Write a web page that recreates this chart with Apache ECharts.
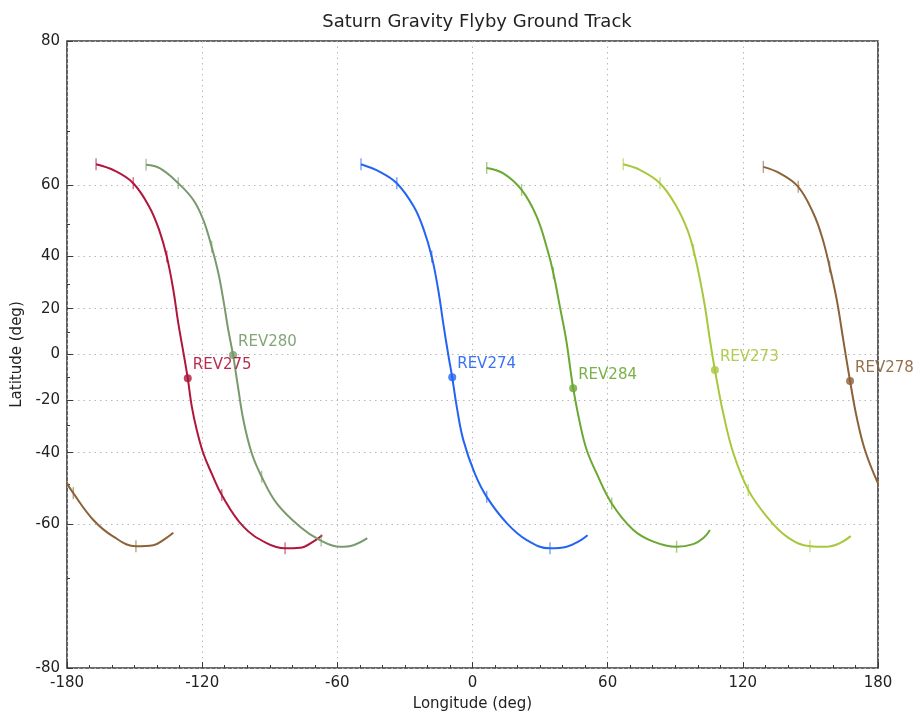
<!DOCTYPE html>
<html>
<head>
<meta charset="utf-8">
<script src="https://cdn.jsdelivr.net/npm/echarts@6/dist/echarts.min.js"></script>
<style>
  html, body { margin: 0; padding: 0; background: #fff; }
  #chart { width: 920px; height: 718px; }
</style>
</head>
<body>
<div id="chart"></div>
<script>
// Axis tick values (degrees)
const latMajorTicks = [-80, -60, -40, -20, 0, 20, 40, 60, 80];
const latMinorTicks = [-70, -50, -30, -10, 10, 30, 50, 70];
const lonMin = -180, lonMax = 180, lonInterval = 60;

// Orbit names and colours
const trackNames  = ['REV275', 'REV280', 'REV274', 'REV284', 'REV273', 'REV278'];
const trackColors = ['#b0163c', '#789a6c', '#2364f4', '#6aa832', '#a8c83c', '#8c6238'];

// Ground tracks: longitude / latitude in degrees (longitude unwrapped past 180 where the pass crosses the seam)
const rev275Lon = [-167.1, -158.7, -150.6, -143.5, -139.1, -135.7, -132.8, -130.6, -128.0, -126.4, -124.6, -122.4, -119.5, -115.8, -111.3, -101.7, -91.4, -83.2, -76.6, -70.7, -66.7];
const rev275Lat = [64.3, 63.0, 60.4, 54.8, 48.4, 39.9, 27.6, 13.8, -1.0, -10.5, -22.6, -31.8, -40.2, -46.7, -52.9, -60.6, -64.0, -65.0, -64.9, -63.7, -62.4];

const rev280Lon = [-144.9, -138.7, -130.6, -123.9, -119.5, -115.8, -112.8, -110.6, -108.4, -106.3, -104.1, -101.7, -98.0, -93.6, -86.9, -76.6, -67.7, -58.8, -52.9, -46.7];
const rev280Lat = [64.2, 63.5, 60.4, 56.5, 51.3, 43.2, 34.0, 23.6, 10.8, -0.2, -14.2, -28.0, -40.2, -47.7, -55.1, -60.6, -63.4, -64.7, -64.4, -63.0];

const rev274Lon = [-49.5, -41.1, -33.6, -26.0, -21.6, -18.1, -15.2, -13.0, -10.6, -9.0, -7.0, -4.1, 1.0, 6.3, 15.2, 24.1, 34.4, 41.8, 47.0, 51.1];
const rev274Lat = [64.3, 62.8, 60.4, 54.8, 48.4, 39.9, 27.6, 13.8, -1.0, -10.1, -22.6, -35.5, -46.7, -53.4, -59.8, -63.4, -65.0, -64.7, -63.7, -62.4];

const rev284Lon = [6.3, 13.7, 21.8, 28.5, 33.3, 35.9, 38.8, 41.6, 43.5, 44.7, 47.7, 50.7, 55.1, 61.8, 71.4, 80.3, 90.6, 98.0, 102.5, 105.4];
const rev284Lat = [63.6, 62.5, 58.9, 52.2, 42.1, 34.0, 20.8, 6.4, -6.9, -14.9, -29.3, -39.1, -46.7, -55.1, -61.3, -63.7, -64.7, -64.2, -63.0, -61.3];

const rev273Lon = [66.9, 74.3, 83.2, 90.6, 95.4, 98.1, 101.0, 103.2, 105.4, 107.6, 108.4, 111.3, 115.8, 122.4, 130.6, 139.5, 149.8, 157.2, 163.1, 167.9];
const rev273Lat = [64.3, 63.2, 60.4, 54.8, 48.4, 42.1, 31.5, 20.8, 6.4, -6.9, -11.3, -25.3, -40.2, -51.5, -58.3, -62.7, -64.6, -64.7, -64.0, -62.6];

const rev278Lon = [129.1, 136.5, 144.6, 151.3, 155.1, 158.5, 161.7, 164.6, 167.6, 170.5, 174.2, 179.7, 182.8, 191.7, 200.6, 210.6, 218.3, 222.7, 227.2];
const rev278Lat = [63.8, 62.5, 59.6, 53.1, 46.4, 36.4, 23.6, 6.4, -11.7, -26.7, -39.1, -49.2, -52.4, -59.1, -62.7, -64.6, -64.4, -63.4, -61.9];

// Time tick marks along each track
const rev275TickLon = [-167.1, -150.6, -135.7, -111.3, -83.2];
const rev275TickLat = [64.3, 60.4, 39.9, -52.9, -65.0];
const rev280TickLon = [-144.9, -130.6, -115.8, -93.6, -67.2];
const rev280TickLat = [64.2, 60.4, 43.2, -47.7, -63.5];
const rev274TickLon = [-49.5, -33.6, -18.1, 6.3, 34.4];
const rev274TickLat = [64.3, 60.4, 39.9, -53.4, -65.0];
const rev284TickLon = [6.3, 21.8, 35.9, 61.8, 90.6];
const rev284TickLat = [63.6, 58.9, 34.0, -55.1, -64.7];
const rev273TickLon = [66.9, 83.2, 98.1, 122.4, 149.8];
const rev273TickLat = [64.3, 60.4, 42.1, -51.5, -64.6];
const rev278TickLon = [129.1, 144.6, 158.5, 182.8, 210.6];
const rev278TickLat = [63.8, 59.6, 36.4, -52.4, -64.6];

// Closest approach points, in trackNames order
const closestLon = [-126.4, -106.3, -9.0, 44.7, 107.6, 167.6];
const closestLat = [-10.5, -0.2, -10.1, -14.9, -6.9, -11.7];

const trackLon = [rev275Lon, rev280Lon, rev274Lon, rev284Lon, rev273Lon, rev278Lon];
const trackLat = [rev275Lat, rev280Lat, rev274Lat, rev284Lat, rev273Lat, rev278Lat];
const tickLon = [rev275TickLon, rev280TickLon, rev274TickLon, rev284TickLon, rev273TickLon, rev278TickLon];
const tickLat = [rev275TickLat, rev280TickLat, rev274TickLat, rev284TickLat, rev273TickLat, rev278TickLat];

// Mercator latitude projection for the y axis
const DEG = Math.PI / 180;
const merc = lat => Math.log(Math.tan(Math.PI / 4 + lat * DEG / 2));
const invMerc = y => (2 * Math.atan(Math.exp(y)) - Math.PI / 2) / DEG;
const yLimit = merc(80);
const wrapLon = lon => (lon > 180 ? lon - 360 : lon);

const FONT = 'DejaVu Sans';
const INK = '#222';
const FRAME = '#3a3a3a';

const series = [];
trackNames.forEach((name, i) => {
  const color = trackColors[i];
  const pts = trackLon[i].map((lon, k) => [lon, merc(trackLat[i][k])]);
  const lineBase = {
    type: 'line', name, showSymbol: false, symbol: 'none',
    smooth: 0.4, clip: true, silent: true,
    lineStyle: { color, width: 2 }, z: 2
  };
  series.push(Object.assign({}, lineBase, { data: pts }));
  // Portion that wraps past the 180° seam re-enters on the left
  if (trackLon[i].some(l => l > 180)) {
    series.push(Object.assign({}, lineBase, { data: pts.map(p => [p[0] - 360, p[1]]) }));
  }
  series.push({
    type: 'scatter', name: name + ' ticks', silent: true,
    symbol: 'rect', symbolSize: [1.4, 12],
    itemStyle: { color, opacity: 0.6 }, z: 3,
    data: tickLon[i].map((lon, k) => [wrapLon(lon), merc(tickLat[i][k])])
  });
  series.push({
    type: 'scatter', name, silent: true,
    symbol: 'circle', symbolSize: 8,
    itemStyle: { color }, z: 4,
    data: [[closestLon[i], merc(closestLat[i])]],
    label: {
      show: true, position: 'right', distance: 1, offset: [0, -13],
      formatter: name, color, opacity: 0.9,
      fontFamily: FONT, fontSize: 15
    }
  });
});

const chart = echarts.init(document.getElementById('chart'), null, { renderer: 'canvas' });
chart.setOption({
  animation: false,
  backgroundColor: '#fff',
  textStyle: { fontFamily: FONT },
  title: {
    text: 'Saturn Gravity Flyby Ground Track',
    left: 472, top: 8, textAlign: 'center',
    textStyle: { fontFamily: FONT, fontSize: 18, fontWeight: 'normal', color: INK }
  },
  grid: {
    left: 67, right: 42, top: 41, bottom: 50,
    show: true, borderColor: FRAME, borderWidth: 1.6, backgroundColor: 'transparent'
  },
  xAxis: {
    type: 'value', min: lonMin, max: lonMax, interval: lonInterval,
    name: 'Longitude (deg)', nameLocation: 'middle', nameGap: 29,
    nameTextStyle: { fontFamily: FONT, fontSize: 15, color: INK },
    axisLine: { show: false, onZero: false },
    axisTick: { show: true, inside: true, length: 6, lineStyle: { color: FRAME, width: 1 } },
    minorTick: { show: true, splitNumber: 6, length: 3, lineStyle: { color: FRAME, width: 1 } },
    axisLabel: { fontFamily: FONT, fontSize: 15, color: INK, margin: 8 },
    splitLine: { show: true, lineStyle: { color: '#b8b8b8', width: 1, type: [1.5, 4] } },
    minorSplitLine: { show: false }
  },
  yAxis: [
    {
      type: 'value', min: -yLimit, max: yLimit,
      name: 'Latitude (deg)', nameLocation: 'middle', nameGap: 38,
      nameTextStyle: { fontFamily: FONT, fontSize: 15, color: INK },
      axisLine: { show: false, onZero: false },
      axisTick: {
        show: true, inside: true, length: 6, lineStyle: { color: FRAME, width: 1 },
        customValues: latMajorTicks.map(merc)
      },
      axisLabel: {
        fontFamily: FONT, fontSize: 15, color: INK, margin: 7,
        customValues: latMajorTicks.map(merc),
        formatter: v => String(Math.round(invMerc(v)))
      },
      splitLine: { show: true, lineStyle: { color: '#b8b8b8', width: 1, type: [1.5, 4] } }
    },
    {
      type: 'value', min: -yLimit, max: yLimit, position: 'left',
      axisLine: { show: false, onZero: false },
      axisTick: {
        show: true, inside: true, length: 3, lineStyle: { color: FRAME, width: 1 },
        customValues: latMinorTicks.map(merc)
      },
      axisLabel: { show: false },
      splitLine: { show: false }
    }
  ],
  series
});
</script>
</body>
</html>
